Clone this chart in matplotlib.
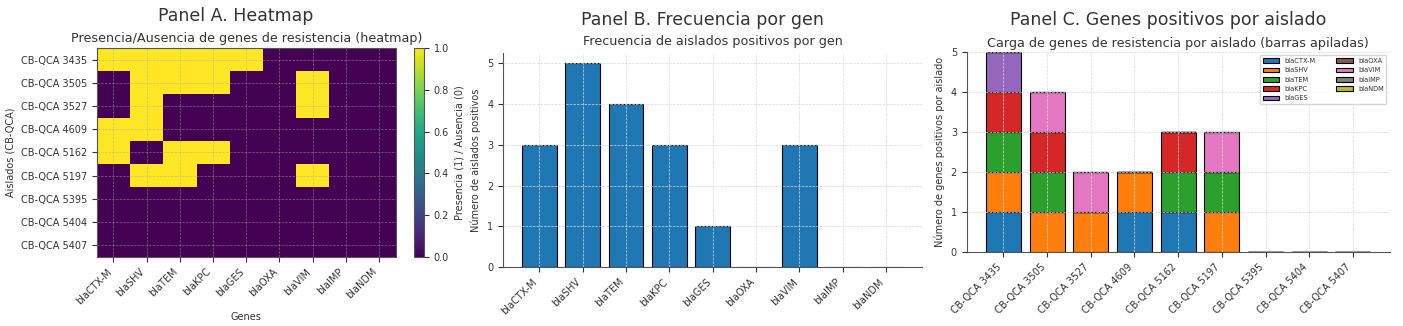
import numpy as np
import matplotlib
matplotlib.use("Agg")
import matplotlib.pyplot as plt

genes = ["blaCTX-M", "blaSHV", "blaTEM", "blaKPC", "blaGES", "blaOXA", "blaVIM", "blaIMP", "blaNDM"]
aislados = ["CB-QCA 3435", "CB-QCA 3505", "CB-QCA 3527", "CB-QCA 4609", "CB-QCA 5162",
            "CB-QCA 5197", "CB-QCA 5395", "CB-QCA 5404", "CB-QCA 5407"]

# presence (1) / absence (0), rows = isolates, cols = genes
ctx_m = [1, 0, 0, 1, 1, 0, 0, 0, 0]
shv   = [1, 1, 1, 1, 0, 1, 0, 0, 0]
tem   = [1, 1, 0, 0, 1, 1, 0, 0, 0]
kpc   = [1, 1, 0, 0, 1, 0, 0, 0, 0]
ges   = [1, 0, 0, 0, 0, 0, 0, 0, 0]
oxa   = [0, 0, 0, 0, 0, 0, 0, 0, 0]
vim   = [0, 1, 1, 0, 0, 1, 0, 0, 0]
imp   = [0, 0, 0, 0, 0, 0, 0, 0, 0]
ndm   = [0, 0, 0, 0, 0, 0, 0, 0, 0]

colores = ["#1f77b4", "#ff7f0e", "#2ca02c", "#d62728", "#9467bd",
           "#8c564b", "#e377c2", "#7f7f7f", "#bcbd22"]

mat = np.array([ctx_m, shv, tem, kpc, ges, oxa, vim, imp, ndm]).T
freq = mat.sum(axis=0)

plt.rcParams.update({
    "text.color": "#333333",
    "axes.labelcolor": "#333333",
    "xtick.color": "#333333",
    "ytick.color": "#333333",
    "axes.edgecolor": "#555555",
})

fig = plt.figure(figsize=(14.03, 3.26), dpi=100)

grid_kw = dict(color="#d8d8d8", linestyle="--", linewidth=0.5)

# Panel A
ax1 = fig.add_axes([0.069, 0.212, 0.213, 0.641])
im = ax1.imshow(mat, cmap="viridis", vmin=0, vmax=1, aspect="auto")
ax1.set_xticks(range(len(genes)))
ax1.set_xticklabels(genes, rotation=45, ha="right", fontsize=7)
ax1.set_yticks(range(len(aislados)))
ax1.set_yticklabels(aislados, fontsize=7)
ax1.set_xlabel("Genes", fontsize=7)
ax1.set_ylabel("Aislados (CB-QCA)", fontsize=7)
ax1.set_title("Presencia/Ausencia de genes de resistencia (heatmap)", fontsize=9.2, pad=4)
ax1.grid(True, color="#aaaaaa", linestyle="--", linewidth=0.5, alpha=0.6)
cax = fig.add_axes([0.295, 0.212, 0.0071, 0.641])
cb = fig.colorbar(im, cax=cax)
cb.set_label("Presencia (1) / Ausencia (0)", fontsize=7)
cb.ax.tick_params(labelsize=7)
fig.text(0.168, 0.95, "Panel A. Heatmap", ha="center", va="center", fontsize=12.5)

# Panel B
ax2 = fig.add_axes([0.3585, 0.181, 0.299, 0.656])
x = np.arange(len(genes))
ax2.bar(x, freq, color="#1f77b4", edgecolor="black", linewidth=0.8, width=0.8)
ax2.set_xticks(x)
ax2.set_xticklabels(genes, rotation=45, ha="right", fontsize=7)
ax2.tick_params(axis="y", labelsize=7)
ax2.set_ylabel("Número de aislados positivos", fontsize=7)
ax2.set_title("Frecuencia de aislados positivos por gen", fontsize=9.2, pad=6)
ax2.grid(True, **grid_kw)
ax2.set_axisbelow(False)
for s in ["top", "right"]:
    ax2.spines[s].set_visible(False)
fig.text(0.5005, 0.94, "Panel B. Frecuencia por gen", ha="center", va="center", fontsize=12.5)

# Panel C
ax3 = fig.add_axes([0.689, 0.227, 0.3015, 0.613])
xi = np.arange(len(aislados))
bottom = np.zeros(len(aislados))
for j, g in enumerate(genes):
    ax3.bar(xi, mat[:, j], bottom=bottom, color=colores[j], edgecolor="black",
            linewidth=0.8, width=0.8, label=g)
    bottom += mat[:, j]
ax3.set_xticks(xi)
ax3.set_xticklabels(aislados, rotation=45, ha="right", fontsize=7)
ax3.tick_params(axis="y", labelsize=7)
ax3.set_ylim(0, 5)
ax3.set_ylabel("Número de genes positivos por aislado", fontsize=7)
ax3.set_title("Carga de genes de resistencia por aislado (barras apiladas)", fontsize=9.2, pad=4)
ax3.grid(True, **grid_kw)
ax3.set_axisbelow(False)
for s in ["top", "right"]:
    ax3.spines[s].set_visible(False)
ax3.legend(ncol=2, fontsize=4.8, loc="upper right", handlelength=2.5, columnspacing=3)
fig.text(0.8325, 0.94, "Panel C. Genes positivos por aislado", ha="center", va="center", fontsize=12.5)

fig.savefig("out.png", dpi=100)
